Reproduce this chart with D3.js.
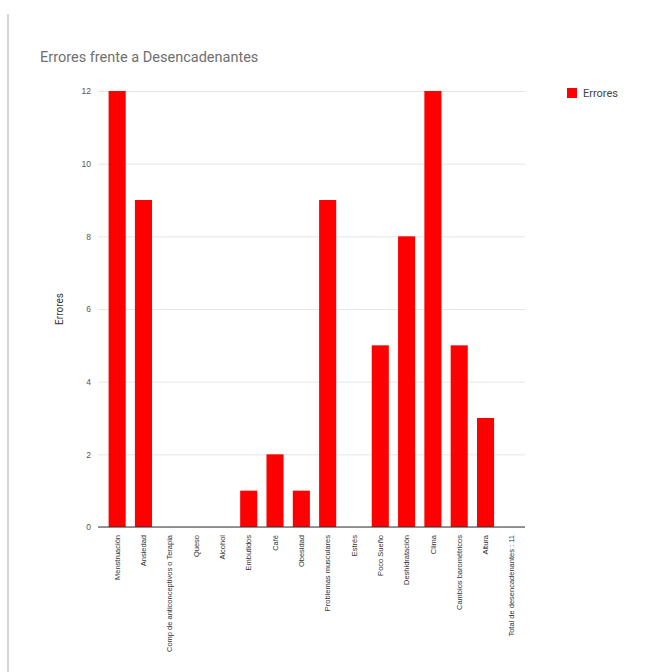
<!DOCTYPE html>
<html>
<head>
<meta charset="utf-8">
<script src="https://cdn.jsdelivr.net/npm/d3@7"></script>
<style>
  html, body { margin: 0; padding: 0; background: #fff; }
  svg { display: block; font-family: Roboto, "Noto Sans", Arial, sans-serif; }
</style>
</head>
<body>
<svg id="chart" width="656" height="672"></svg>
<script>
// Desencadenantes y número de errores asociados
const categories = [
  "Menstruación",
  "Ansiedad",
  "Comp de anticonceptivos o Terapia",
  "Queso",
  "Alcohol",
  "Embutidos",
  "Café",
  "Obesidad",
  "Problemas musculares",
  "Estrés",
  "Poco Sueño",
  "Deshidratación",
  "Clima",
  "Cambios barométricos",
  "Altura",
  "Total de desencadenantes : 11"
];
const errores = [12, 9, 0, 0, 0, 1, 2, 1, 9, 0, 5, 8, 12, 5, 3, 0];
const yTicks = [0, 2, 4, 6, 8, 10, 12];
const seriesName = "Errores";
const chartTitle = "Errores frente a Desencadenantes";

const svg = d3.select("#chart");

// marco izquierdo de la tarjeta
svg.append("rect")
  .attr("x", 7).attr("y", 14).attr("width", 2).attr("height", 672)
  .attr("fill", "#d6d6d6");

const plot = { left: 104, right: 525, top: 91, bottom: 527 };

const x = d3.scaleBand()
  .domain(categories)
  .range([plot.left, plot.right])
  .paddingInner(0.35)
  .paddingOuter(0.175);

const y = d3.scaleLinear()
  .domain([0, 12])
  .range([plot.bottom, plot.top]);

// título
svg.append("text")
  .attr("x", 40).attr("y", 62)
  .attr("font-size", 14.5)
  .attr("fill", "#6f6f6f")
  .text(chartTitle);

// cuadrícula y etiquetas del eje Y
const gridW = plot.right - 98;
const yAxis = d3.axisLeft(y).tickValues(yTicks).tickSize(gridW).tickFormat(d3.format("d"));
const gy = svg.append("g")
  .attr("transform", `translate(${plot.right},0)`)
  .call(yAxis);
gy.select(".domain").remove();
gy.selectAll(".tick line").attr("stroke", "#e6e6e6").attr("stroke-width", 1);
gy.selectAll(".tick text")
  .attr("x", -gridW - 7)
  .attr("font-size", 8.5)
  .attr("fill", "#555");

// título del eje Y
svg.append("text")
  .attr("transform", `translate(63,${(plot.top + plot.bottom) / 2}) rotate(-90)`)
  .attr("text-anchor", "middle")
  .attr("font-size", 10)
  .attr("fill", "#333")
  .text(seriesName);

// barras
svg.append("g")
  .selectAll("rect")
  .data(categories.map((c, i) => ({ c, v: errores[i] })))
  .join("rect")
  .attr("x", d => x(d.c))
  .attr("y", d => y(d.v))
  .attr("width", x.bandwidth())
  .attr("height", d => y(0) - y(d.v))
  .attr("fill", "#ff0000");

// línea base
svg.append("line")
  .attr("x1", 98).attr("x2", plot.right)
  .attr("y1", y(0)).attr("y2", y(0))
  .attr("stroke", "#333").attr("stroke-width", 1);

// etiquetas de categorías
const xAxis = d3.axisBottom(x).tickSize(0);
const gx = svg.append("g")
  .attr("transform", `translate(0,${plot.bottom})`)
  .call(xAxis);
gx.select(".domain").remove();
gx.selectAll(".tick text")
  .attr("transform", "rotate(-90)")
  .attr("text-anchor", "end")
  .attr("x", -8)
  .attr("y", 0)
  .attr("dy", "0.35em")
  .attr("font-size", 7.5)
  .attr("fill", "#333");

// leyenda
const legend = svg.append("g").attr("transform", "translate(567,88)");
legend.append("rect").attr("width", 10).attr("height", 10).attr("fill", "#ff0000");
legend.append("text")
  .attr("x", 16).attr("y", 5).attr("dy", "0.35em")
  .attr("font-size", 11)
  .attr("fill", "#444")
  .text(seriesName);
</script>
</body>
</html>
